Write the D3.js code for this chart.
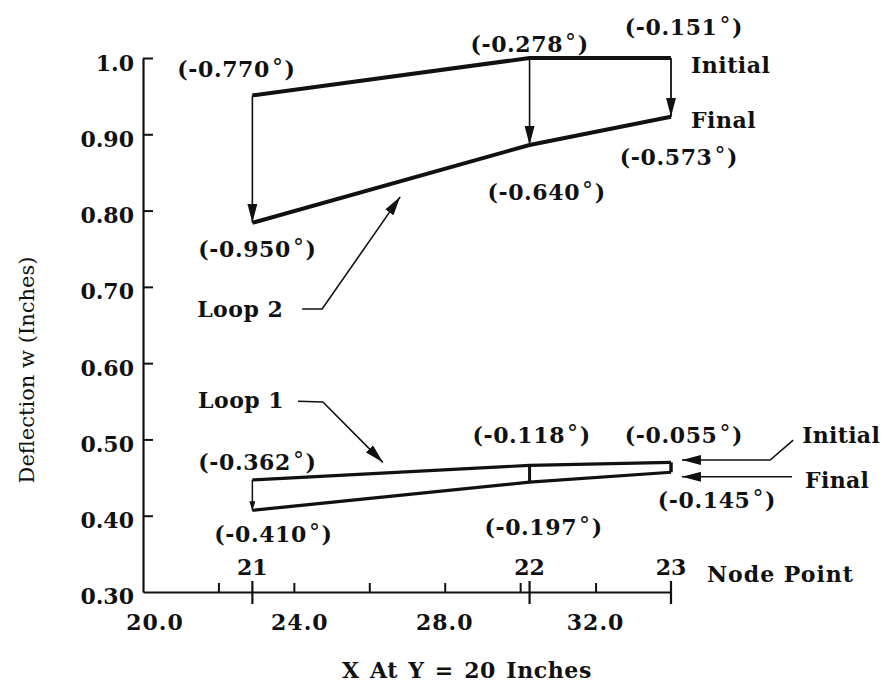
<!DOCTYPE html>
<html>
<head>
<meta charset="utf-8">
<script src="https://cdn.jsdelivr.net/npm/d3@7"></script>
<style>
body { margin: 0; background: #fff; }
text { font-family: "DejaVu Serif", serif; fill: #111; }
</style>
</head>
<body>
<div id="chart"></div>
<script>
// node points along the span, x in inches
var nodeNames = ["21", "22", "23"];
var nodeX = [22.9, 30.25, 34.0];

// deflection w (inches) at each node
var loop2Initial = [0.951, 1.0, 1.0];
var loop2Final = [0.784, 0.886, 0.923];
var loop1Initial = [0.447, 0.466, 0.470];
var loop1Final = [0.407, 0.444, 0.457];

// twist angles (degrees) written beside each node
var loop2InitialAngle = ["-0.770", "-0.278", "-0.151"];
var loop2FinalAngle = ["-0.950", "-0.640", "-0.573"];
var loop1InitialAngle = ["-0.362", "-0.118", "-0.055"];
var loop1FinalAngle = ["-0.410", "-0.197", "-0.145"];

// axes
var yTicks = [0.4, 0.5, 0.6, 0.7, 0.8, 0.9, 1.0];
var yTickLabels = ["0.40", "0.50", "0.60", "0.70", "0.80", "0.90", "1.0"];
var yCornerLabel = "0.30";
var xMinorTicks = [22, 24, 26, 28, 30, 32];
var xLabelTicks = [20, 24, 28, 32];
var xTickLabels = ["20.0", "24.0", "28.0", "32.0"];

var width = 890, height = 685;
var ink = "#111";
var fs = 22;

var svg = d3.select("#chart").append("svg")
    .attr("width", width)
    .attr("height", height);

var x = d3.scaleLinear().domain([20, 34]).range([143, 671]);
var y = d3.scaleLinear().domain([0.3, 1.0]).range([592, 58]);

// arrow heads
var defs = svg.append("defs");
function addMarker(id, len, half) {
    defs.append("marker")
        .attr("id", id)
        .attr("markerUnits", "userSpaceOnUse")
        .attr("viewBox", "0 " + (-half) + " " + len + " " + (2 * half))
        .attr("refX", len)
        .attr("refY", 0)
        .attr("markerWidth", len)
        .attr("markerHeight", 2 * half)
        .attr("orient", "auto")
        .append("path")
        .attr("d", "M0," + (-half) + "L" + len + ",0L0," + half + "Z")
        .attr("fill", ink);
}
addMarker("head", 19, 5);
addMarker("small", 9, 3);

function label(sel) {
    return sel.attr("font-size", fs).attr("font-weight", "bold");
}

// y axis, ticks pointing inward
var yAxis = svg.append("g")
    .attr("transform", "translate(" + x(20) + ",0)")
    .call(d3.axisLeft(y)
        .tickValues(yTicks)
        .tickSize(-10)
        .tickSizeOuter(0)
        .tickPadding(9)
        .tickFormat(function (d, i) { return yTickLabels[i]; }));
yAxis.select(".domain").attr("stroke", ink).attr("stroke-width", 2.2);
yAxis.selectAll(".tick line").attr("stroke", ink).attr("stroke-width", 2);
label(yAxis.selectAll(".tick text"))
    .attr("dy", "0.55em")
    .attr("font-family", "DejaVu Serif")
    .attr("fill", ink);
label(yAxis.append("text"))
    .attr("x", -9).attr("y", y(0.3))
    .attr("dy", "0.55em")
    .attr("text-anchor", "end")
    .text(yCornerLabel);

// x axis, minor ticks pointing up
var xAxis = svg.append("g")
    .attr("transform", "translate(0," + y(0.3) + ")")
    .call(d3.axisBottom(x)
        .tickValues(xMinorTicks)
        .tickSize(-9)
        .tickSizeOuter(0)
        .tickFormat(""));
xAxis.select(".domain").attr("stroke", ink).attr("stroke-width", 2.2);
xAxis.selectAll(".tick line").attr("stroke", ink).attr("stroke-width", 2);

label(svg.selectAll(".xlab")
    .data(xLabelTicks)
    .enter().append("text"))
    .attr("class", "xlab")
    .attr("x", function (d, i) { return x(d) + (i === 0 ? 12 : (i === 1 ? 6 : 0)); })
    .attr("y", 630)
    .attr("text-anchor", "middle")
    .attr("letter-spacing", 1)
    .text(function (d, i) { return xTickLabels[i]; });

// node point ticks crossing the axis
svg.selectAll(".nodetick")
    .data(nodeX)
    .enter().append("line")
    .attr("x1", function (d) { return x(d); })
    .attr("x2", function (d) { return x(d); })
    .attr("y1", y(0.3) - 11)
    .attr("y2", y(0.3) + 12)
    .attr("stroke", ink)
    .attr("stroke-width", 2.2);

label(svg.selectAll(".nodelab")
    .data(nodeX)
    .enter().append("text"))
    .attr("x", function (d) { return x(d); })
    .attr("y", 575)
    .attr("text-anchor", "middle")
    .text(function (d, i) { return nodeNames[i]; });

label(svg.append("text"))
    .attr("x", x(34) + 36).attr("y", 582)
    .attr("letter-spacing", 1)
    .text("Node Point");

// axis titles
label(svg.append("text"))
    .attr("x", 467).attr("y", 678)
    .attr("text-anchor", "middle")
    .attr("letter-spacing", 0.6)
    .attr("word-spacing", 2)
    .text("X At Y = 20 Inches");

svg.append("text")
    .attr("transform", "translate(34,370) rotate(-90)")
    .attr("text-anchor", "middle")
    .attr("font-size", 21)
    .text("Deflection w (Inches)");

// loops
var line = d3.line()
    .x(function (d) { return x(d[0]); })
    .y(function (d) { return y(d[1]); });

function drawLoop(initial, finals, width, arrowStyle) {
    svg.append("path")
        .attr("d", line(d3.zip(nodeX, initial)))
        .attr("fill", "none").attr("stroke", ink)
        .attr("stroke-width", width).attr("stroke-linejoin", "round");
    svg.append("path")
        .attr("d", line(d3.zip(nodeX, finals)))
        .attr("fill", "none").attr("stroke", ink)
        .attr("stroke-width", width).attr("stroke-linejoin", "round");
    nodeX.forEach(function (nx, i) {
        var st = arrowStyle[i];
        var l = svg.append("line")
            .attr("x1", x(nx)).attr("x2", x(nx))
            .attr("y1", y(initial[i])).attr("y2", y(finals[i]))
            .attr("stroke", ink)
            .attr("stroke-width", st.w);
        if (st.marker) l.attr("marker-end", "url(#" + st.marker + ")");
    });
}

drawLoop(loop2Initial, loop2Final, 4, [
    { w: 1.6, marker: "head" }, { w: 1.6, marker: "head" }, { w: 1.8, marker: "head" }]);
drawLoop(loop1Initial, loop1Final, 3.2, [
    { w: 1.5, marker: "small" }, { w: 3, marker: null }, { w: 3.5, marker: null }]);

// angle labels: offsets from the node point they describe
function angleLabels(values, angles, offsets) {
    nodeX.forEach(function (nx, i) {
        var t = label(svg.append("text"))
            .attr("x", x(nx) + offsets[i][0])
            .attr("y", y(values[i]) + offsets[i][1])
            .attr("text-anchor", "middle")
            .attr("letter-spacing", 0.6);
        t.append("tspan").text("(" + angles[i]);
        t.append("tspan").attr("dx", 2).attr("dy", -2).attr("font-weight", "normal").text("\u00b0");
        t.append("tspan").attr("dx", 1).attr("dy", 2).text(")");
    });
}
angleLabels(loop2Initial, loop2InitialAngle, [[-16, -18], [0, -6], [13, -23]]);
angleLabels(loop2Final, loop2FinalAngle, [[5, 34], [17, 55], [8, 48]]);
angleLabels(loop1Initial, loop1InitialAngle, [[5, -10], [2, -22], [13, -19]]);
angleLabels(loop1Final, loop1FinalAngle, [[21, 32], [14, 53], [46, 36]]);

// Initial / Final tags for the upper loop
label(svg.append("text")).attr("x", x(34) + 20).attr("y", y(1.0) + 15)
    .attr("letter-spacing", 0.5)
    .text("Initial");
label(svg.append("text")).attr("x", x(34) + 20).attr("y", y(loop2Final[2]) + 11)
    .attr("letter-spacing", 0.5)
    .text("Final");

// leader lines, in chart units
var loop2Leader = [[24.22, 0.671], [24.75, 0.671], [26.82, 0.818]];
var loop1Leader = [[24.11, 0.550], [24.77, 0.549], [26.36, 0.470]];
var initialLeader = [[37.24, 0.499], [36.63, 0.473], [34.29, 0.473]];
var finalLeader = [[37.21, 0.451], [34.29, 0.451]];

[loop2Leader, loop1Leader, initialLeader, finalLeader].forEach(function (pts) {
    svg.append("path")
        .attr("d", line(pts))
        .attr("fill", "none")
        .attr("stroke", ink)
        .attr("stroke-width", 1.6)
        .attr("marker-end", "url(#head)");
});

label(svg.append("text")).attr("x", x(loop2Leader[0][0]) - 105).attr("y", y(loop2Leader[0][1]) + 8)
    .attr("letter-spacing", 0.5)
    .text("Loop 2");
label(svg.append("text")).attr("x", x(loop1Leader[0][0]) - 100).attr("y", y(loop1Leader[0][1]) + 7)
    .attr("letter-spacing", 0.5)
    .text("Loop 1");
label(svg.append("text")).attr("x", x(initialLeader[0][0]) + 9).attr("y", y(initialLeader[0][1]) + 3)
    .attr("letter-spacing", 0.3)
    .text("Initial");
label(svg.append("text")).attr("x", x(finalLeader[0][0]) + 13).attr("y", y(finalLeader[0][1]) + 11)
    .attr("letter-spacing", 0.3)
    .text("Final");
</script>
</body>
</html>
